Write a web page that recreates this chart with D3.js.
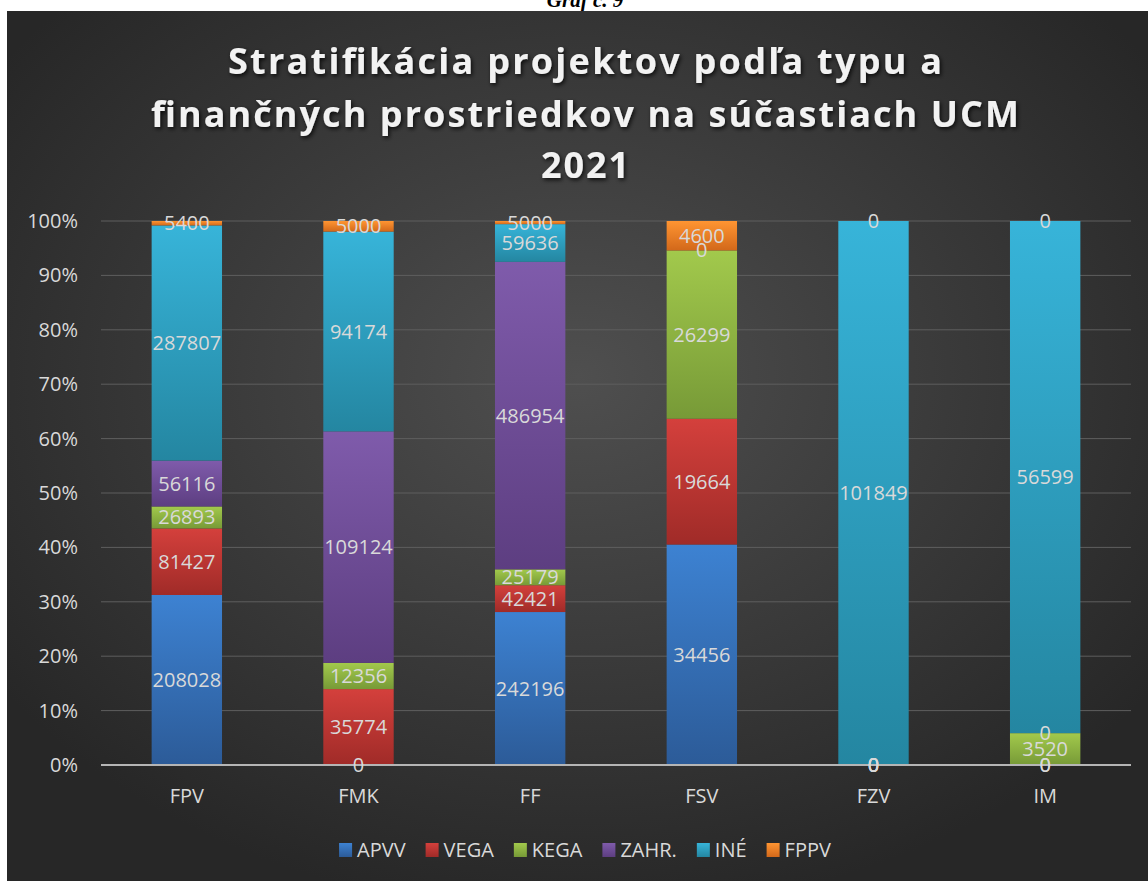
<!DOCTYPE html>
<html>
<head>
<meta charset="utf-8">
<script src="https://cdn.jsdelivr.net/npm/d3@7"></script>
<style>
  body { margin: 0; background: #fff; }
  svg { display: block; }
</style>
</head>
<body>
<div id="chart"></div>
<script>
const categories = ["FPV", "FMK", "FF", "FSV", "FZV", "IM"];
const seriesNames = ["APVV", "VEGA", "KEGA", "ZAHR.", "INÉ", "FPPV"];

// values per series (null = empty cell, no label)
const apvv = [208028, 0, 242196, 34456, 0, 0];
const vega = [81427, 35774, 42421, 19664, 0, 0];
const kega = [26893, 12356, 25179, 26299, 0, 3520];
const zahr = [56116, 109124, 486954, 0, 0, 0];
const ine = [287807, 94174, 59636, null, 101849, 56599];
const fppv = [5400, 5000, 5000, 4600, 0, 0];

const yTicks = [0, 0.1, 0.2, 0.3, 0.4, 0.5, 0.6, 0.7, 0.8, 0.9, 1];

const width = 1148;
const height = 881;

const margin = { top: 221, right: 17, bottom: 116, left: 101 };

const colors = {
  "APVV": ["#3d82d2", "#2c5b98"],
  "VEGA": ["#d4403c", "#a02b28"],
  "KEGA": ["#a2c94c", "#779a37"],
  "ZAHR.": ["#7f5bab", "#5d3e81"],
  "INÉ": ["#37b4d9", "#2486a1"],
  "FPPV": ["#ff9532", "#d2681a"]
};

const allSeries = [apvv, vega, kega, zahr, ine, fppv];

const rows = categories.map(function(c, i) {
  const row = { cat: c };
  seriesNames.forEach(function(s, j) {
    row[s] = allSeries[j][i];
  });
  return row;
});

const svg = d3.select("#chart")
  .append("svg")
  .attr("width", width)
  .attr("height", height);

const defs = svg.append("defs");

// background gradient
const bg = defs.append("radialGradient")
  .attr("id", "bg")
  .attr("cx", "50%")
  .attr("cy", "42%")
  .attr("r", "62%");
bg.append("stop").attr("offset", "0%").attr("stop-color", "#4f4f4f");
bg.append("stop").attr("offset", "100%").attr("stop-color", "#272727");

seriesNames.forEach(function(s, i) {
  const g = defs.append("linearGradient")
    .attr("id", "grad" + i)
    .attr("x1", 0).attr("y1", 0)
    .attr("x2", 0).attr("y2", 1);
  g.append("stop").attr("offset", "0%").attr("stop-color", colors[s][0]);
  g.append("stop").attr("offset", "100%").attr("stop-color", colors[s][1]);
});

const shadow = defs.append("filter")
  .attr("id", "shadow")
  .attr("x", "-10%").attr("y", "-20%")
  .attr("width", "120%").attr("height", "150%");
shadow.append("feDropShadow")
  .attr("dx", 1.5).attr("dy", 2)
  .attr("stdDeviation", 2)
  .attr("flood-color", "#000")
  .attr("flood-opacity", 0.8);

// cut-off caption above the chart
svg.append("text")
  .attr("x", 585)
  .attr("y", 7)
  .attr("text-anchor", "middle")
  .style("font-family", "'Liberation Serif', serif")
  .style("font-size", "21px")
  .style("font-weight", "bold")
  .style("font-style", "italic")
  .style("fill", "#000")
  .text("Graf č. 9");

// chart background
svg.append("rect")
  .attr("x", 7)
  .attr("y", 11)
  .attr("width", width - 7)
  .attr("height", height - 11)
  .attr("fill", "url(#bg)");

// title
const titleLines = [
  { text: "Stratifikácia projektov podľa typu a", y: 74, len: 714 },
  { text: "finančných prostriedkov na súčastiach UCM", y: 127, len: 868 },
  { text: "2021", y: 178, len: 88 }
];

svg.selectAll(".title")
  .data(titleLines)
  .enter()
  .append("text")
  .attr("class", "title")
  .attr("x", 585)
  .attr("y", d => d.y)
  .attr("text-anchor", "middle")
  .attr("textLength", d => d.len)
  .attr("lengthAdjust", "spacing")
  .attr("filter", "url(#shadow)")
  .style("font-family", "'Open Sans', sans-serif")
  .style("font-size", "36px")
  .style("font-weight", "bold")
  .style("fill", "#f2f2f2")
  .text(d => d.text);

const xScale = d3.scaleBand()
  .domain(categories)
  .range([margin.left, width - margin.right])
  .paddingInner(0.59)
  .paddingOuter(0.295);

const yScale = d3.scaleLinear()
  .domain([0, 1])
  .range([height - margin.bottom, margin.top]);

// gridlines
svg.selectAll(".grid")
  .data(yTicks.filter(d => d > 0))
  .enter()
  .append("line")
  .attr("x1", margin.left)
  .attr("x2", width - margin.right)
  .attr("y1", d => yScale(d))
  .attr("y2", d => yScale(d))
  .attr("stroke", "#5e5e5e")
  .attr("stroke-width", 1);

// y axis labels
const yAxis = svg.append("g")
  .attr("transform", `translate(${margin.left - 23}, 0)`)
  .call(d3.axisLeft(yScale).tickValues(yTicks).tickFormat(d3.format(".0%")).tickSize(0));
yAxis.select(".domain").remove();
yAxis.selectAll("text")
  .attr("x", 0)
  .style("font-family", "'Open Sans', sans-serif")
  .style("font-size", "20px")
  .style("fill", "#d9d9d9");

// stacked bars
const stack = d3.stack()
  .keys(seriesNames)
  .value((d, key) => d[key] == null ? 0 : d[key])
  .offset(d3.stackOffsetExpand);

const layers = stack(rows);

layers.forEach(function(layer, i) {
  svg.selectAll(".bar" + i)
    .data(layer)
    .enter()
    .append("rect")
    .attr("x", d => xScale(d.data.cat))
    .attr("y", d => yScale(d[1]))
    .attr("width", xScale.bandwidth())
    .attr("height", d => yScale(d[0]) - yScale(d[1]))
    .attr("fill", "url(#grad" + i + ")");
});

// x axis line
svg.append("line")
  .attr("x1", margin.left)
  .attr("x2", width - margin.right)
  .attr("y1", yScale(0))
  .attr("y2", yScale(0))
  .attr("stroke", "#b5b5b5")
  .attr("stroke-width", 2);

// data labels
layers.forEach(function(layer) {
  svg.selectAll(".lab-" + layer.index)
    .data(layer.filter(d => d.data[layer.key] != null))
    .enter()
    .append("text")
    .attr("x", d => xScale(d.data.cat) + xScale.bandwidth() / 2)
    .attr("y", d => yScale((d[0] + d[1]) / 2))
    .attr("dy", "0.35em")
    .attr("text-anchor", "middle")
    .style("font-family", "'Open Sans', sans-serif")
    .style("font-size", "20px")
    .style("fill", "#d9d9d9")
    .text(d => d.data[layer.key]);
});

// x axis labels
const xAxis = svg.append("g")
  .attr("transform", `translate(0, ${height - margin.bottom + 24})`)
  .call(d3.axisBottom(xScale).tickSize(0));
xAxis.select(".domain").remove();
xAxis.selectAll("text")
  .attr("y", 0)
  .attr("dy", "0.71em")
  .style("font-family", "'Open Sans', sans-serif")
  .style("font-size", "20px")
  .style("fill", "#d9d9d9");

// legend
const legend = svg.append("g");
let lx = 0;
seriesNames.forEach(function(s, i) {
  const item = legend.append("g").attr("transform", `translate(${lx}, 0)`);
  item.append("rect")
    .attr("x", 0)
    .attr("y", -14)
    .attr("width", 13)
    .attr("height", 14)
    .attr("fill", "url(#grad" + i + ")");
  const t = item.append("text")
    .attr("x", 18)
    .attr("y", 0)
    .style("font-family", "'Open Sans', sans-serif")
    .style("font-size", "20px")
    .style("fill", "#d9d9d9")
    .text(s);
  lx += 18 + t.node().getComputedTextLength() + 20;
});
const legendWidth = lx - 20;
legend.attr("transform", `translate(${585 - legendWidth / 2}, 857)`);
</script>
</body>
</html>
